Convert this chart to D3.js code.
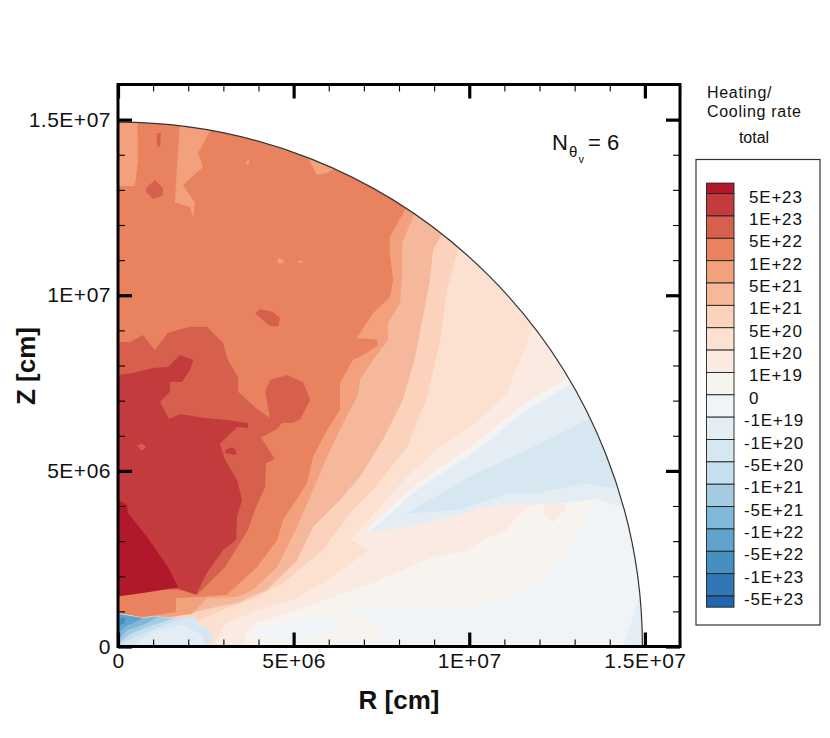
<!DOCTYPE html>
<html>
<head>
<meta charset="utf-8">
<script src="https://cdn.jsdelivr.net/npm/d3@7"></script>
<style>
  body { margin: 0; background: #fff; }
  text { font-family: "Liberation Sans", Arial, sans-serif; fill: #111; }
</style>
</head>
<body>
<svg id="chart" width="830" height="738"></svg>
<script>
// all R, Z values are in units of 1E+06 cm
const xMajor = [0, 5, 10, 15];
const xMajorLabels = ["0", "5E+06", "1E+07", "1.5E+07"];
const yMajorLabels = ["0", "5E+06", "1E+07", "1.5E+07"];
const minorTicks = [1, 2, 3, 4, 6, 7, 8, 9, 11, 12, 13, 14, 16];
const domainRadius = 14.93;

const levelLabels = ["5E+23", "1E+23", "5E+22", "1E+22", "5E+21", "1E+21", "5E+20", "1E+20", "1E+19", "0",
  "-1E+19", "-1E+20", "-5E+20", "-1E+21", "-5E+21", "-1E+22", "-5E+22", "-1E+23", "-5E+23"];
const bandColors = ["#b2182b", "#c33b3c", "#d6604d", "#e9835f", "#f3a17c", "#f6b89a", "#fcd2bc", "#fce0d0", "#fbeae2", "#f7f3ef",
  "#f0f4f7", "#e4edf4", "#d6e7f1", "#c6dfee", "#a3cce3", "#7fb8d8", "#60a4ce", "#4590c1", "#3277b5", "#2166ac"];

// warm side, outermost first
const warm19 = [[0,0],[7.60,0],[7.54,.36],[7.26,.67],[6.89,.95],[6.52,1.12],[10.11,1.10],[11.53,1.52],[12.38,2.18],[12.95,3.03],[13.38,3.60],[13.64,4.23],[16,4.5],[16,16],[0,16]];
const zeroPatch = [[3.90,.41],[4.61,.64],[5.47,.75],[6.32,.84],[6.46,.53],[5.75,.30],[4.90,.19],[4.19,.24]];
const warm1e20 = [[3.56,0],[3.62,.38],[3.96,.70],[4.70,.90],[6.04,1.38],[6.32,1.47],[7.46,1.89],[8.88,2.52],[9.94,2.75],[10.39,3.03],[11.07,3.32],[11.53,3.89],[12.78,4.31],[14.86,7.59],[16,16],[0,16],[0,0]];
const warm1e20b = [[12.10,3.80],[12.38,3.52],[12.78,3.94],[12.58,4.17],[12.16,4.03]];
const warm5e20 = [[2.70,0],[2.90,.38],[3.10,.67],[3.76,.95],[5.10,1.38],[5.95,1.89],[7.17,2.75],[6.60,3.03],[7.26,3.74],[8.23,4.83],[9.17,5.68],[10.22,6.39],[11.07,7.22],[11.44,8.16],[11.79,9.01],[12.58,9.58],[16,16],[0,16],[0,0]];
const warm1e21 = [[0,16],[9.88,16],[9.88,11.72],[9.65,11.23],[9.37,10.15],[9.17,8.73],[8.80,7.10],[8.23,5.68],[7.26,4.46],[6.60,3.80],[5.84,2.75],[4.70,1.81],[3.76,1.32],[2.96,1.04],[2.48,.81],[2.05,.70],[0,.2]];
const warm5e21 = [[0,16],[9.40,16],[9.40,12.00],[9.17,11.66],[8.97,11.29],[8.88,10.43],[8.68,9.38],[8.46,8.24],[8.11,7.02],[7.54,5.88],[6.89,4.83],[6.32,4.17],[5.55,3.40],[5.10,2.46],[4.24,1.61],[3.39,1.24],[2.76,1.12],[2.19,.98],[1.65,.87],[0,.5]];
const warm1e22 = [[0,16],[8.60,16],[8.60,12.57],[8.40,12.23],[8.09,11.49],[8.09,10.63],[8.03,9.78],[7.69,9.21],[7.69,8.73],[7.26,8.16],[6.89,7.59],[6.83,7.16],[6.41,6.36],[6.04,5.59],[5.67,4.74],[5.10,3.40],[4.53,2.26],[3.84,1.61],[3.39,1.41],[2.53,1.38],[2.28,1.10],[2.11,.93],[1.48,.84],[0,.7]];
const warm5e22 = [[0,16],[8.37,16],[8.37,12.71],[8.17,12.43],[7.74,11.66],[7.74,11.20],[7.83,10.43],[7.74,9.95],[7.26,9.49],[6.80,8.78],[7.37,8.73],[7.40,8.58],[7.09,8.36],[6.69,8.16],[6.32,7.50],[6.32,6.73],[5.95,6.16],[5.55,5.40],[5.38,4.65],[4.70,3.60],[4.53,3.03],[3.96,2.26],[3.56,1.89],[3.10,1.47],[2.25,1.41],[1.65,1.38],[1.65,.98],[.71,.84],[0,.95]];
const stripTop = [[0,15.5],[.54,15.5],[.57,13.85],[.48,13.11],[0,13.11]];
const plumeTop = [[1.80,15.5],[2.90,15.2],[2.28,14.05],[2.42,13.65],[1.85,13.14],[2.19,12.63],[2.14,12.23],[2.05,12.51],[1.62,12.65],[1.68,13.65]];
const edgeTop = [[5.41,13.91],[5.67,13.42],[5.95,13.48],[6.23,13.65],[6.6,14.5],[5.5,14.5]];
const speck1 = [[4.52,10.97],[4.60,11.07],[4.76,10.95],[4.60,10.90]];
const speck2 = [[5.12,10.97],[5.22,11.00],[5.27,10.92],[5.15,10.92]];
const speck3 = [[3.63,13.75],[3.72,13.88],[3.73,13.72]];
const sliverTop = [[1.12,14.62],[1.22,14.62],[1.20,14.25],[1.12,14.22],[1.10,14.40]];
const blobTop = [[.80,13.05],[1.05,13.28],[1.28,13.05],[1.28,12.85],[1.00,12.74],[.80,12.94]];
const blobMid = [[3.90,9.49],[4.04,9.61],[4.41,9.52],[4.61,9.35],[4.56,9.12],[4.33,9.12]];
const warm1e23 = [[0,8.67],[.34,8.67],[.71,8.87],[1.05,8.44],[1.42,8.93],[2.05,9.10],[2.53,9.10],[2.99,8.64],[3.13,8.16],[3.42,7.67],[3.42,7.25],[3.99,6.73],[4.33,6.51],[4.19,7.25],[4.33,7.59],[4.81,7.73],[5.27,7.53],[5.47,7.02],[5.18,6.45],[4.95,6.36],[4.67,6.36],[4.53,6.19],[4.07,5.94],[4.47,5.34],[4.21,5.22],[4.19,4.54],[3.90,3.89],[3.70,3.32],[3.05,2.26],[2.25,1.47],[1.71,1.62],[0,1.6]];
const warm5e23 = [[0,7.73],[.43,7.79],[1.00,7.93],[1.42,7.96],[1.77,8.30],[2.14,8.16],[2.05,7.87],[1.82,7.53],[1.48,7.53],[1.48,7.25],[1.20,6.96],[1.45,6.48],[1.77,6.62],[2.42,6.51],[3.10,6.45],[3.70,6.36],[3.70,6.22],[3.39,6.25],[2.90,5.77],[3.05,5.31],[3.39,4.74],[3.53,4.17],[3.39,3.69],[3.36,3.03],[2.99,2.75],[2.53,2.09],[2.22,1.47],[1.71,1.65],[0,1.65]];
const speck4 = [[.54,5.71],[.68,5.79],[.80,5.68],[.68,5.57]];
const speck5 = [[3.05,5.59],[3.25,5.68],[3.36,5.59],[3.36,5.45],[3.05,5.51]];
const warmCore = [[0,4.17],[.26,4.03],[.28,3.80],[.83,3.12],[1.42,2.26],[1.71,1.69],[1.20,1.60],[.71,1.52],[0,1.42]];

// the cool wedge on the right
const wedgeLower = [[14.38,3.97],[13.92,4.09],[13.64,4.23],[12.78,4.09],[12.01,4.06],[11.25,4.06],[10.31,3.94],[9.37,3.66],[8.23,3.40]];
const wedgeEdge = [[7.06,3.32],[8.51,4.63],[10.11,5.74],[11.64,6.96],[12.87,7.67],[16,9.6],[16,3.9]];
const wedgeOuter = [[7.12,3.29],[8.51,4.54],[10.11,5.62],[11.64,6.85],[12.87,7.56],[16,9.4],[16,3.9]];
const wedgeMiddle = [[7.17,3.26],[8.51,4.46],[10.11,5.51],[11.64,6.73],[12.87,7.44],[16,9.2],[16,3.9]];
const wedgeInner = [[8.23,3.80],[10.11,4.88],[11.64,5.59],[13.35,6.45],[16,8.0],[16,4.4],[14.24,4.51],[13.92,4.54],[13.35,4.65],[12.78,4.54],[12.01,4.37],[11.16,4.37],[10.39,4.11],[9.65,3.89],[8.97,3.83]];
const cornerCool = [[14.38,0],[14.66,.84],[14.80,1.32],[16,1.6],[16,0]];

// cooling pocket near the origin
const coolOuter = [[0,.95],[.34,.90],[.71,.81],[1.00,.87],[1.34,.78],[1.71,.78],[2.19,.87],[2.25,.70],[2.53,.53],[2.70,.27],[2.56,0],[0,0]];
const coolFloor = [[.40,0],[.97,.41],[1.82,.61],[2.39,.33],[2.48,.10],[2.48,0]];
const cool5e20 = [[0,.95],[.71,.81],[1.00,.87],[1.82,.81],[.97,.47],[.48,.27],[.11,.07],[0,0]];
const cool1e21 = [[0,.94],[.71,.80],[1.00,.86],[1.57,.80],[.85,.56],[.40,.38],[.06,.13],[0,.1]];
const cool5e21 = [[0,.93],[.71,.80],[1.00,.85],[1.14,.84],[.77,.64],[.28,.47],[.06,.24],[0,.2]];
const cool1e22 = [[0,.92],[.71,.81],[.43,.67],[.20,.56],[.06,.41],[0,.38]];
const cool5e22 = [[.06,.81],[.20,.81],[.20,.67],[.06,.61]];

// [polygon, index into bandColors], painted in this order
const layers = [
  [warm19, 9], [zeroPatch, 10], [warm1e20, 8], [warm1e20b, 8], [warm5e20, 7], [warm1e21, 6], [warm5e21, 5], [warm1e22, 4], [warm5e22, 3],
  [stripTop, 4], [plumeTop, 4], [edgeTop, 4], [speck1, 4], [speck2, 4], [speck3, 4],
  [sliverTop, 2], [blobTop, 2], [blobMid, 2], [warm1e23, 2], [warm5e23, 1], [speck4, 2], [speck5, 1], [warmCore, 0],
  [wedgeEdge.concat(wedgeLower), 9], [wedgeOuter.concat(wedgeLower), 10], [wedgeMiddle.concat(wedgeLower), 11], [wedgeInner, 12], [cornerCool, 11],
  [coolOuter, 12], [coolFloor, 11], [cool5e20, 13], [cool1e21, 14], [cool5e21, 15], [cool1e22, 16], [cool5e22, 17]
];

const svg = d3.select("#chart");
const x = d3.scaleLinear().domain([0, 16]).range([118, 680]);
const y = d3.scaleLinear().domain([0, 16]).range([646.5, 84.5]);
const radiusPx = x(domainRadius) - x(0);

const quarter = d3.arc().innerRadius(0).outerRadius(radiusPx).startAngle(0).endAngle(Math.PI / 2);
svg.append("clipPath").attr("id", "disc").append("path")
  .attr("d", quarter())
  .attr("transform", `translate(${x(0)},${y(0)})`);

const shape = d3.line().x(d => x(d[0])).y(d => y(d[1]));

const field = svg.append("g").attr("clip-path", "url(#disc)");
const blurred = field.append("g").style("filter", "blur(0.5px)");
blurred.append("rect")
  .attr("x", x(0) - 2).attr("y", y(16)).attr("width", 570).attr("height", 570)
  .attr("fill", bandColors[10]);
blurred.selectAll("path")
  .data(layers)
  .join("path")
  .attr("d", d => shape(d[0]) + "Z")
  .attr("fill", d => bandColors[d[1]]);

// circular edge of the domain
svg.append("path")
  .attr("d", d3.arc().innerRadius(radiusPx).outerRadius(radiusPx).startAngle(0).endAngle(Math.PI / 2)())
  .attr("transform", `translate(${x(0)},${y(0)})`)
  .attr("fill", "none").attr("stroke", "#333").attr("stroke-width", 1.2);

// frame
svg.append("rect")
  .attr("x", x(0)).attr("y", y(16)).attr("width", x(16) - x(0)).attr("height", y(0) - y(16))
  .attr("fill", "none").attr("stroke", "#000").attr("stroke-width", 3);

function drawAxis(axisFn, scale, at, labels) {
  const major = axisFn(scale).tickValues(xMajor).tickSize(-14).tickSizeOuter(0).tickPadding(labels ? 7 : 0)
    .tickFormat((d, i) => labels ? labels[i] : "");
  const g = svg.append("g").attr("transform", at).call(major);
  g.select(".domain").remove();
  g.selectAll("line").attr("stroke", "#000").attr("stroke-width", 3.2);
  g.selectAll("text").attr("font-size", 21).attr("letter-spacing", .5).style("fill", "#111");

  const minor = axisFn(scale).tickValues(minorTicks).tickSize(-7).tickSizeOuter(0).tickFormat("");
  const m = svg.append("g").attr("transform", at).call(minor);
  m.select(".domain").remove();
  m.selectAll("line").attr("stroke", "#000").attr("stroke-width", 1.1);
}
drawAxis(d3.axisBottom, x, `translate(0,${y(0)})`, xMajorLabels);
drawAxis(d3.axisLeft, y, `translate(${x(0)},0)`, yMajorLabels);
drawAxis(d3.axisTop, x, `translate(0,${y(16)})`, null);
drawAxis(d3.axisRight, y, `translate(${x(16)},0)`, null);

// axis titles
svg.append("text").attr("x", 399).attr("y", 709).attr("text-anchor", "middle")
  .attr("font-size", 26).attr("font-weight", "bold").text("R [cm]");
svg.append("text").attr("transform", "translate(35,366) rotate(-90)").attr("text-anchor", "middle")
  .attr("font-size", 26).attr("font-weight", "bold").text("Z [cm]");

// N_theta_v annotation
svg.append("text").attr("x", 552).attr("y", 150).attr("font-size", 22).text("N");
svg.append("text").attr("x", 569).attr("y", 157).attr("font-size", 15).text("θ");
svg.append("text").attr("x", 578.5).attr("y", 163).attr("font-size", 11).text("v");
svg.append("text").attr("x", 588).attr("y", 150).attr("font-size", 22).text("= 6");

// legend
svg.append("rect").attr("x", 696).attr("y", 159.5).attr("width", 124).attr("height", 465.5)
  .attr("fill", "#fff").attr("stroke", "#333").attr("stroke-width", 1.2);

svg.append("text").attr("x", 707).attr("y", 98).attr("font-size", 16).attr("letter-spacing", .7).text("Heating/");
svg.append("text").attr("x", 707).attr("y", 117).attr("font-size", 16).attr("letter-spacing", .7).text("Cooling rate");
svg.append("text").attr("x", 754).attr("y", 143).attr("text-anchor", "middle").attr("font-size", 16).text("total");

const legendY = d3.scaleLinear().domain([0, levelLabels.length - 1]).range([193.6, 596]);
svg.selectAll(".swatch")
  .data(bandColors)
  .join("rect")
  .attr("class", "swatch")
  .attr("x", 706.5).attr("width", 27.5)
  .attr("y", (d, i) => legendY(Math.max(i - 1, -0.47)))
  .attr("height", (d, i) => legendY(Math.min(i, 18.5)) - legendY(Math.max(i - 1, -0.47)))
  .attr("fill", d => d)
  .attr("stroke", "#222").attr("stroke-width", 0.9);

svg.selectAll(".level")
  .data(levelLabels)
  .join("text")
  .attr("class", "level")
  .attr("x", d => d.startsWith("-") ? 744 : 749)
  .attr("y", (d, i) => legendY(i) + 9)
  .attr("font-size", 17)
  .attr("letter-spacing", .8)
  .text(d => d);
</script>
</body>
</html>
